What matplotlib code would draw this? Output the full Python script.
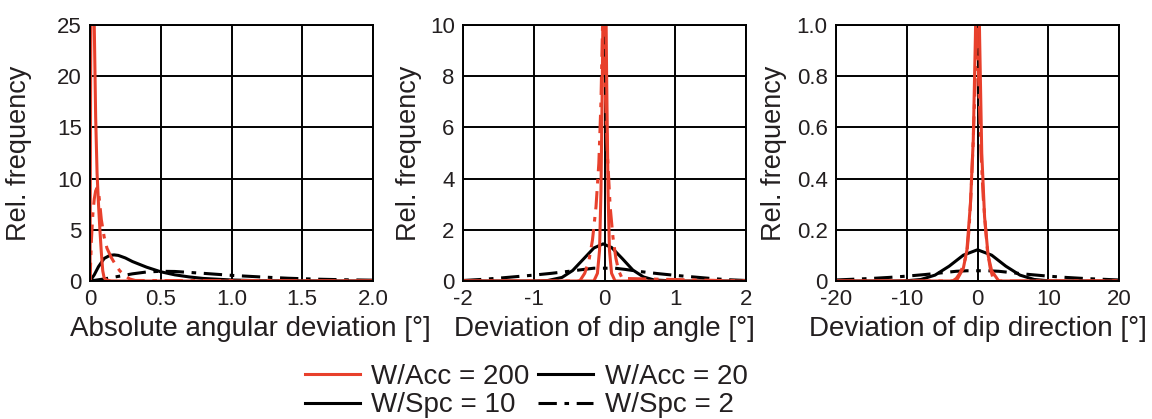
import numpy as np
import matplotlib.pyplot as plt
from matplotlib.lines import Line2D

plt.rcParams['font.family'] = ['Liberation Sans', 'DejaVu Sans']
txt = '#231f20'
red = '#e8402c'

# ---- panel 1: absolute angular deviation ----
p1_red_solid_x = [0, 0.004, 0.008, 0.012, 0.016, 0.02, 0.03, 0.04, 0.05, 0.06, 0.07, 0.08, 0.09, 0.1, 0.12, 0.15, 0.2, 2.0]
p1_red_solid_y = [0, 18, 30, 36, 37, 35, 25, 16, 10.5, 7.5, 5, 2.8, 1.0, 0.3, 0.08, 0.01, 0, 0]
p1_red_dd_x = [0, 0.01, 0.02, 0.03, 0.04, 0.05, 0.06, 0.08, 0.1, 0.12, 0.15, 0.18, 0.21, 0.24, 0.28, 0.32, 2.0]
p1_red_dd_y = [0, 4, 6.5, 8, 8.8, 9.1, 8.8, 6, 4.3, 3.2, 2.3, 1.6, 1.0, 0.6, 0.2, 0.05, 0]
p1_blk_solid_x = [0, 0.03, 0.06, 0.1, 0.14, 0.17, 0.2, 0.25, 0.3, 0.4, 0.5, 0.6, 0.7, 0.8, 1.0, 1.2, 1.5, 2.0]
p1_blk_solid_y = [0, 0.6, 1.4, 2.2, 2.5, 2.55, 2.5, 2.25, 1.9, 1.35, 0.9, 0.6, 0.4, 0.25, 0.1, 0.03, 0.01, 0]
p1_blk_dd_x = [0, 0.1, 0.2, 0.3, 0.4, 0.5, 0.6, 0.8, 1.0, 1.2, 1.4, 1.6, 1.8, 2.0]
p1_blk_dd_y = [0, 0.2, 0.45, 0.7, 0.88, 0.95, 0.93, 0.75, 0.55, 0.4, 0.27, 0.18, 0.12, 0.08]

# ---- panel 2: deviation of dip angle ----
p2_red_solid_x = [-2, -0.15, -0.1, -0.07, -0.05, -0.03, -0.02, -0.01, 0, 0.01, 0.02, 0.03, 0.05, 0.07, 0.1, 0.15, 2]
p2_red_solid_y = [0, 0, 0.3, 1.2, 3.5, 8, 11, 14, 15, 14, 11, 8, 3.5, 1.2, 0.3, 0, 0]
p2_red_dd_x = [-2, -0.35, -0.28, -0.22, -0.17, -0.12, -0.08, -0.05, -0.02, 0.01, 0.04, 0.08, 0.12, 0.16, 0.2, 0.25, 2]
p2_red_dd_y = [0, 0, 0.3, 0.8, 1.6, 2.9, 4.6, 7, 11, 7.5, 5, 2.9, 1.7, 0.9, 0.4, 0.1, 0]
p2_blk_solid_x = [-2, -1, -0.8, -0.6, -0.45, -0.3, -0.15, -0.02, 0.1, 0.25, 0.4, 0.55, 0.7, 1, 2]
p2_blk_solid_y = [0, 0, 0.02, 0.14, 0.41, 0.85, 1.29, 1.45, 1.31, 0.88, 0.43, 0.16, 0.04, 0, 0]
p2_blk_dd_x = [-2, -1.75, -1.5, -1.25, -1, -0.75, -0.5, -0.3, -0.15, 0, 0.15, 0.3, 0.5, 0.75, 1, 1.25, 1.5, 1.75, 2]
p2_blk_dd_y = [0.02, 0.06, 0.11, 0.17, 0.23, 0.3, 0.38, 0.45, 0.5, 0.5, 0.5, 0.45, 0.37, 0.29, 0.22, 0.16, 0.1, 0.05, 0.02]

# ---- panel 3: deviation of dip direction ----
p3_red_solid_x = [-20, -3, -2, -1.5, -1, -0.6, -0.3, -0.1, 0.1, 0.3, 0.6, 1, 1.5, 2, 3, 20]
p3_red_solid_y = [0, 0, 0.05, 0.12, 0.3, 0.55, 0.95, 1.3, 1.3, 0.95, 0.5, 0.25, 0.1, 0.04, 0, 0]
p3_red_dd_x = [-20, -3.5, -3, -2.5, -2, -1.5, -1.2, -0.9, -0.6, -0.3, -0.1, 0.2, 0.5, 0.8, 1.1, 1.4, 1.8, 2.2, 2.6, 20]
p3_red_dd_y = [0, 0, 0.01, 0.03, 0.06, 0.11, 0.2, 0.35, 0.55, 0.8, 1.0, 0.75, 0.5, 0.33, 0.22, 0.12, 0.05, 0.01, 0, 0]
p3_blk_solid_x = [-20, -12, -10, -8, -6, -4, -2, 0, 2, 4, 6, 8, 10, 12, 20]
p3_blk_solid_y = [0, 0, 0.001, 0.006, 0.023, 0.058, 0.101, 0.122, 0.101, 0.058, 0.023, 0.006, 0.001, 0, 0]
p3_blk_dd_x = [-20, -17.5, -15, -12.5, -10, -7.5, -5, -3, -1.5, 0, 1.5, 3, 5, 7.5, 10, 12.5, 15, 17.5, 20]
p3_blk_dd_y = [0.004, 0.007, 0.01, 0.014, 0.019, 0.025, 0.032, 0.038, 0.04, 0.04, 0.04, 0.038, 0.032, 0.025, 0.019, 0.014, 0.01, 0.007, 0.004]

xlabels = ['Absolute angular deviation [°]', 'Deviation of dip angle [°]', 'Deviation of dip direction [°]']
xticks = [[0, 0.5, 1.0, 1.5, 2.0], [-2, -1, 0, 1, 2], [-20, -10, 0, 10, 20]]
xticklabels = [['0', '0.5', '1.0', '1.5', '2.0'], ['-2', '-1', '0', '1', '2'], ['-20', '-10', '0', '10', '20']]
yticks = [[0, 5, 10, 15, 20, 25], [0, 2, 4, 6, 8, 10], [0, 0.2, 0.4, 0.6, 0.8, 1.0]]
yticklabels = [['0', '5', '10', '15', '20', '25'], ['0', '2', '4', '6', '8', '10'],
               ['0', '0.2', '0.4', '0.6', '0.8', '1.0']]

curves = [
    [(p1_blk_dd_x, p1_blk_dd_y), (p1_blk_solid_x, p1_blk_solid_y), (p1_red_dd_x, p1_red_dd_y), (p1_red_solid_x, p1_red_solid_y)],
    [(p2_blk_dd_x, p2_blk_dd_y), (p2_blk_solid_x, p2_blk_solid_y), (p2_red_dd_x, p2_red_dd_y), (p2_red_solid_x, p2_red_solid_y)],
    [(p3_blk_dd_x, p3_blk_dd_y), (p3_blk_solid_x, p3_blk_solid_y), (p3_red_dd_x, p3_red_dd_y), (p3_red_solid_x, p3_red_solid_y)],
]
styles = [('black', 'dd'), ('black', '-'), (red, 'dd'), (red, '-')]
dashdot = (6, 2.5, 1.5, 2.5)

fig = plt.figure(figsize=(11.52, 4.19), dpi=100)
lefts = [90, 463, 836]
xlab_x = [0.565, 0.5, 0.5]       # label centre, axes fraction
ylab_x = [-0.205, -0.145, -0.173]  # right edge of rotated label, axes fraction
for i in range(3):
    ax = fig.add_axes([lefts[i] / 1152, 138 / 419, 283 / 1152, 256 / 419])
    for (xs, ys), (c, ls) in zip(curves[i], styles):
        if ls == 'dd':
            ax.plot(xs, ys, color=c, lw=2.2, dashes=dashdot)
        else:
            ax.plot(xs, ys, color=c, lw=2.2)
    ax.set_xlim(xticks[i][0], xticks[i][-1])
    ax.set_ylim(yticks[i][0], yticks[i][-1])
    ax.set_xticks(xticks[i])
    ax.set_xticklabels(xticklabels[i])
    ax.set_yticks(yticks[i])
    ax.set_yticklabels(yticklabels[i])
    ax.grid(True, color='black', lw=1.4)
    ax.set_axisbelow(True)
    for s in ax.spines.values():
        s.set_linewidth(1.4)
    ax.tick_params(length=0, labelsize=16, labelcolor=txt, pad=6)
    ax.set_xlabel(xlabels[i], fontsize=20, color=txt)
    ax.set_ylabel('Rel. frequency', fontsize=19.5, color=txt)
    ax.xaxis.set_label_coords(xlab_x[i], -0.135)
    ax.yaxis.set_label_coords(ylab_x[i], 0.5)

handles = [Line2D([], [], color=red, lw=2.2),
           Line2D([], [], color='black', lw=2.2),
           Line2D([], [], color='black', lw=2.2),
           Line2D([], [], color='black', lw=2.2, dashes=dashdot)]
labels = ['W/Acc = 200', 'W/Spc = 10', 'W/Acc = 20', 'W/Spc = 2']
leg = fig.legend(handles, labels, ncol=2, loc='center', bbox_to_anchor=(526 / 1152, 28 / 419),
                 frameon=False, fontsize=20, handlelength=2.0, handletextpad=0.4,
                 columnspacing=0.3, labelspacing=0.1, borderpad=0)
for t in leg.get_texts():
    t.set_color(txt)

fig.savefig('out.png', dpi=100)
